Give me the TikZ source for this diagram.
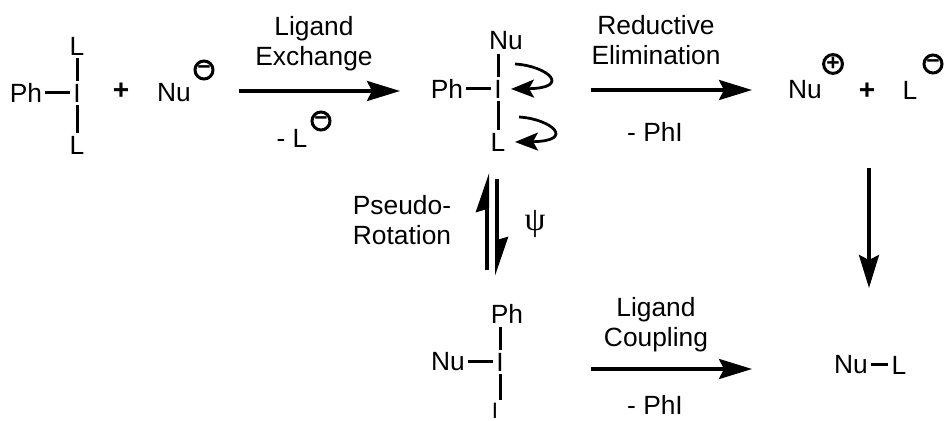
\documentclass[tikz,border=0pt]{standalone}
\usepackage{fontspec}
\setmainfont{Liberation Sans}
\newfontfamily\psifont{Liberation Serif}
\usetikzlibrary{arrows.meta}
\begin{document}
\begin{tikzpicture}[x=0.2mm, y=-0.2mm,
  atm/.style={inner sep=0.6mm, font=\fontsize{15}{17}\selectfont},
  txt/.style={inner sep=0pt, align=center, font=\fontsize{15}{17}\selectfont},
  pl/.style={inner sep=0pt, font=\fontsize{16}{16}\selectfont\bfseries},
  ch/.style={circle, draw=black, line width=0.6mm, minimum size=3.6mm, inner sep=0pt, font=\fontsize{13}{13}\selectfont\bfseries},
  bd/.style={line width=0.6mm},
  ar/.style={line width=0.72mm, -{Stealth[length=6.6mm, width=4mm, inset=1mm]}},
  cv/.style={line width=0.55mm, -{Stealth[length=4.6mm, width=3.6mm, inset=1mm]}},
  hu/.style={line width=0.8mm, -{Stealth[harpoon, length=6.6mm, width=4.4mm, inset=0.6mm]}},
  hd/.style={line width=0.8mm, -{Stealth[harpoon, length=6.6mm, width=4.4mm, inset=0.6mm]}}]
\useasboundingbox (0,0) rectangle (945,421);
\node[atm] (ia) at (77,93) {I};
\node[atm] (pha) at (26,93) {Ph};
\node[atm] (la) at (77,46) {L};
\node[atm] (lb) at (77,145) {L};
\node[pl] (pa) at (121,91) {+};
\node[atm] (nua) at (174,93) {Nu};
\node[ch] (ca) at (204,70) {−};
\draw[bd] (pha) -- (ia);
\draw[bd] (la) -- (ia);
\draw[bd] (ia) -- (lb);
\coordinate (e1) at (239,91);
\coordinate (e2) at (400,91);
\draw[ar] (e1) -- (e2);
\node[txt] (ex) at (314,44) {Ligand\\Exchange};
\node[txt] (lo) at (292,138) {- L};
\node[ch] (cb) at (321,121) {−};
\node[atm] (ib) at (498,89) {I};
\node[atm] (phb) at (447,89) {Ph};
\node[atm] (nub) at (506,41) {Nu};
\node[atm] (lc) at (498,142) {L};
\draw[bd] (phb) -- (ib);
\draw[bd] (nub.south -| ib) -- (ib);
\draw[bd] (ib) -- (lc);
\coordinate (c1) at (515,64);
\coordinate (c2) at (511,89);
\coordinate (c3) at (519,117);
\coordinate (c4) at (515,142);
\draw[cv] (c1) .. controls (548,66) and (572,88) .. (c2);
\draw[cv] (c3) .. controls (552,119) and (576,141) .. (c4);
\coordinate (r1) at (591,90);
\coordinate (r2) at (752,90);
\draw[ar] (r1) -- (r2);
\node[txt] (re) at (656,40) {Reductive\\Elimination};
\node[txt] (pb) at (655,132) {- PhI};
\node[atm] (nuc) at (805,90) {Nu};
\node[ch] (cc) at (833,64) {+};
\node[pl] (pc) at (867,91) {+};
\node[atm] (ld) at (910,90) {L};
\node[ch] (cd) at (933,64) {−};
\coordinate (d1) at (869,168);
\coordinate (d2) at (869,288);
\draw[ar] (d1) -- (d2);
\coordinate (u1) at (487,270);
\coordinate (u2) at (487,173);
\coordinate (v1) at (497,179);
\coordinate (v2) at (497,276);
\draw[hu] (u1) -- (u2);
\draw[hd] (v1) -- (v2);
\node[txt, align=left] (ps) at (402,220) {Pseudo-\\Rotation};
\node[txt, font=\fontsize{19}{19}\psifont] (psi) at (535,224) {ψ};
\node[atm] (ic) at (500,362) {I};
\node[atm] (phc) at (507,314) {Ph};
\node[atm] (nud) at (448,362) {Nu};
\node[atm, inner sep=0.5mm, font=\fontsize{12.7}{17}\selectfont] (le) at (495,411) {I};
\draw[bd] (nud) -- (ic);
\draw[bd] (phc.south -| ic) -- (ic);
\draw[bd] (ic) -- (ic |- le.north);
\coordinate (l1) at (591,369);
\coordinate (l2) at (752,369);
\draw[ar] (l1) -- (l2);
\node[txt] (co) at (656,325) {Ligand\\Coupling};
\node[txt] (pd) at (655,405) {- PhI};
\node[atm] (nue) at (851,365) {Nu};
\node[atm] (lf) at (899,365) {L};
\draw[bd] (nue) -- (lf);
\end{tikzpicture}
\end{document}
